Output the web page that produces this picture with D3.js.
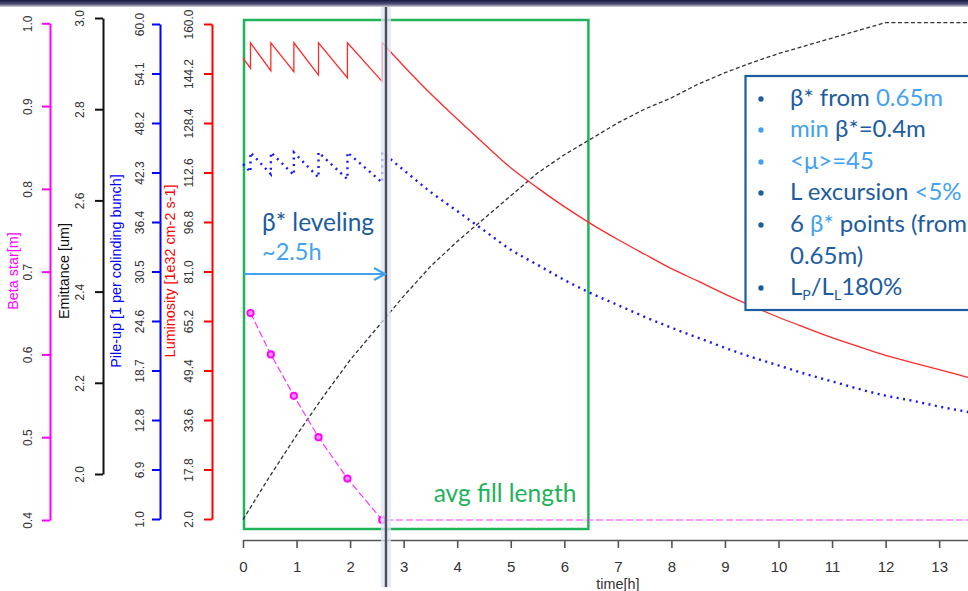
<!DOCTYPE html>
<html>
<head>
<meta charset="utf-8">
<script src="https://cdn.jsdelivr.net/npm/d3@7"></script>
<style>
  html, body { margin: 0; padding: 0; background: #fff; }
  svg { display: block; }
</style>
</head>
<body>
<script>
// ---- data -------------------------------------------------------------
// Luminosity [1e32 cm-2 s-1] while beta* is levelled (sawtooth, each step a new beta* point)
const levelTime   = [0, 0.14, 0.14, 0.52, 0.52, 0.95, 0.95, 1.41, 1.41, 1.95, 1.95, 2.6, 2.6];
const lumiLevel   = [149.1, 145.9, 154.0, 145.1, 154.0, 144.8, 154.0, 143.7, 154.0, 142.8, 154.0, 141.6, 154.0];
// Pile-up [1 per colliding bunch] over the same levelling steps
const pileLevel   = [43.3, 42.35, 44.7, 42.1, 44.7, 42.0, 44.7, 41.7, 44.7, 41.5, 44.7, 41.1, 44.7];

// Free decay once the minimum beta* is reached
const decayTime   = [3, 3.5, 4, 4.5, 5, 5.5, 6, 6.5, 7, 7.5, 8, 8.5, 9, 9.5, 10, 10.5, 11, 11.5, 12, 12.5, 13, 13.5, 14];
const lumiDecay   = [146.6, 137.8, 129.7, 121.8, 114.1, 107.7, 101.7, 96.2, 91.2, 86.5, 81.9, 77.9, 73.8, 70.0, 66.4, 63.1, 59.9, 57.0, 54.2, 51.9, 49.7, 47.4, 45.2];
const pileDecay   = [42.6, 40.0, 37.7, 35.4, 33.1, 31.3, 29.5, 27.9, 26.5, 25.1, 23.8, 22.6, 21.4, 20.3, 19.3, 18.3, 17.4, 16.5, 15.7, 15.1, 14.4, 13.8, 13.1];

// Emittance [um]
const emitTime    = [0, 0.5, 1, 1.5, 2, 2.5, 3, 3.5, 4, 4.5, 5, 5.5, 6, 6.5, 7, 7.5, 8, 8.5, 9, 9.5, 10, 10.5, 11, 11.5, 12, 14];
const emitValue   = [1.90, 1.995, 2.085, 2.17, 2.25, 2.32, 2.39, 2.455, 2.51, 2.56, 2.61, 2.66, 2.70, 2.735, 2.77, 2.80, 2.825, 2.855, 2.88, 2.902, 2.922, 2.939, 2.956, 2.973, 2.99, 2.99];

// Beta* points [m]
const betaTime    = [0.14, 0.52, 0.95, 1.41, 1.95, 2.6];
const betaValue   = [0.65, 0.60, 0.55, 0.50, 0.45, 0.40];
const betaEndTime = 14;

// Axis tick labels
const xTicks      = [0, 1, 2, 3, 4, 5, 6, 7, 8, 9, 10, 11, 12, 13];
const betaTicks   = [0.4, 0.5, 0.6, 0.7, 0.8, 0.9, 1.0];
const emitTicks   = [2.0, 2.2, 2.4, 2.6, 2.8, 3.0];
const pileTicks   = [1.0, 6.9, 12.8, 18.7, 24.6, 30.5, 36.4, 42.3, 48.2, 54.1, 60.0];
const lumiTicks   = [2.0, 17.8, 33.6, 49.4, 65.2, 81.0, 96.8, 112.6, 128.4, 144.2, 160.0];

// Annotation times [h]
const levellingEnd  = 2.67;
const avgFillLength = 6.45;

// ---- layout -------------------------------------------------------------
const W = 968, H = 591;
const svg = d3.select("body").append("svg").attr("width", W).attr("height", H)
  .attr("font-family", "'Liberation Sans', Arial, sans-serif");

const x     = d3.scaleLinear([0, 14], [243, 992.7]);
const yBeta = d3.scaleLinear([0.4, 1.0], [520, 23.3]);
const yEmit = d3.scaleLinear([2.0, 3.0], [474, 18]);
const yPile = d3.scaleLinear([1.0, 60.0], [519, 24]);
const yLumi = d3.scaleLinear([2.0, 160.0], [519, 24]);

const C = {
  beta: "#ff00ff", pile: "#0000ff", lumi: "#ff0000",
  green: "#22b25a", dark: "#1d5c9f", light: "#42a2f0"
};

// window edge at the top
const defs = svg.append("defs");
const g1 = defs.append("linearGradient").attr("id", "topband").attr("x1", 0).attr("y1", 0).attr("x2", 0).attr("y2", 1);
g1.append("stop").attr("offset", "0%").attr("stop-color", "#15153f");
g1.append("stop").attr("offset", "60%").attr("stop-color", "#55557a");
g1.append("stop").attr("offset", "100%").attr("stop-color", "#d8d8e4");
svg.append("rect").attr("x", 0).attr("y", 0).attr("width", W).attr("height", 7).attr("fill", "url(#topband)");

// ---- y axes (rotated labels, R style) ----------------------------------
function yAxis(scale, ticks, xPos, labelOffset, color, title, titleX) {
  const ax = d3.axisLeft(scale).tickValues(ticks).tickFormat(d3.format(".1f"))
    .tickSize(8).tickSizeOuter(0);
  const g = svg.append("g").attr("transform", `translate(${xPos},0)`).call(ax);
  g.select(".domain").attr("stroke", color).attr("stroke-width", 2);
  g.selectAll(".tick line").attr("stroke", color).attr("stroke-width", 2);
  g.selectAll(".tick text")
    .attr("x", null).attr("dy", null)
    .attr("text-anchor", "middle")
    .attr("transform", `translate(${-labelOffset},0) rotate(-90) scale(1,1.12)`)
    .attr("fill", "#333")
    .attr("font-size", 12)
    .attr("font-family", "'Liberation Sans', Arial, sans-serif");
  svg.append("text")
    .attr("transform", `translate(${titleX},271) rotate(-90)`)
    .attr("text-anchor", "middle")
    .attr("font-size", 14.4)
    .attr("fill", color)
    .text(title);
}
yAxis(yBeta, betaTicks, 50, 18, C.beta, "Beta star[m]", 18);
yAxis(yEmit, emitTicks, 103, 19, "#111", "Emittance [um]", 69);
yAxis(yPile, pileTicks, 160, 16, C.pile, "Pile-up [1 per colinding bunch]", 121);
yAxis(yLumi, lumiTicks, 212, 19, C.lumi, "Luminosity [1e32 cm-2 s-1]", 175);

// ---- x axis -------------------------------------------------------------
const xg = svg.append("g").attr("transform", "translate(0,540)")
  .call(d3.axisBottom(x).tickValues(xTicks).tickFormat(d3.format("d")).tickSize(8).tickSizeOuter(0));
xg.select(".domain").attr("stroke", "#555").attr("stroke-width", 1.6);
xg.selectAll(".tick line").attr("stroke", "#555").attr("stroke-width", 1.6);
xg.selectAll(".tick text").attr("dy", null).attr("y", 32)
  .attr("font-size", 15).attr("fill", "#333")
  .attr("font-family", "'Liberation Sans', Arial, sans-serif");
svg.append("text").attr("x", x(7)).attr("y", 589).attr("text-anchor", "middle")
  .attr("font-size", 14.4).attr("fill", "#333").text("time[h]");

// ---- annotation frame: average fill length ------------------------------
svg.append("rect")
  .attr("x", x(0) + 1).attr("y", 20)
  .attr("width", x(avgFillLength) - x(0) - 1).attr("height", 509)
  .attr("fill", "none").attr("stroke", C.green).attr("stroke-width", 2.5);

// ---- curves -------------------------------------------------------------
const line = (ys) => d3.line().x(d => x(d[0])).y(d => ys(d[1]));

const emitPts = emitTime.map((t, i) => [t, emitValue[i]]);
svg.append("path").datum(emitPts).attr("d", line(yEmit))
  .attr("fill", "none").attr("stroke", "#333").attr("stroke-width", 1.3)
  .attr("stroke-dasharray", "4 2.5");

// luminosity: straight sawtooth while levelling, smooth decay afterwards
const lumiLevPts = levelTime.map((t, i) => [t, lumiLevel[i]]);
const lumiDecPts = [lumiLevPts[lumiLevPts.length - 1]].concat(decayTime.map((t, i) => [t, lumiDecay[i]]));
const pileLevPts = levelTime.map((t, i) => [t, pileLevel[i]]);
const pileDecPts = [pileLevPts[pileLevPts.length - 1]].concat(decayTime.map((t, i) => [t, pileDecay[i]]));

const lumiPath = line(yLumi)(lumiLevPts) + line(yLumi).curve(d3.curveMonotoneX)(lumiDecPts).replace(/^M/, "L");
svg.append("path").attr("d", lumiPath)
  .attr("fill", "none").attr("stroke", "#ff2a2a").attr("stroke-width", 1.3);

const pilePath = line(yPile)(pileLevPts) + line(yPile).curve(d3.curveMonotoneX)(pileDecPts).replace(/^M/, "L");
svg.append("path").attr("d", pilePath)
  .attr("fill", "none").attr("stroke", "#1515ff").attr("stroke-width", 2.4)
  .attr("stroke-dasharray", "2 4.5");

const betaPts = betaTime.map((t, i) => [t, betaValue[i]]);
svg.append("path").datum(betaPts.concat([[betaEndTime, betaValue[betaValue.length - 1]]]))
  .attr("d", line(yBeta))
  .attr("fill", "none").attr("stroke", "#ff33ff").attr("stroke-width", 1.2)
  .attr("stroke-dasharray", "7 3");
svg.selectAll("circle.beta").data(betaPts).join("circle")
  .attr("class", "beta")
  .attr("cx", d => x(d[0])).attr("cy", d => yBeta(d[1])).attr("r", 3.2)
  .attr("fill", "#ff8cff").attr("stroke", C.beta).attr("stroke-width", 1.8);

// ---- end of levelling marker ---------------------------------------------
const xl = x(levellingEnd);
svg.append("rect").attr("x", xl - 5).attr("y", 7).attr("width", 10).attr("height", 580)
  .attr("fill", "#dfe4f4").attr("opacity", 0.75);
svg.append("line").attr("x1", xl).attr("x2", xl).attr("y1", 7).attr("y2", 587)
  .attr("stroke", "#4d4d55").attr("stroke-width", 2.4);

// levelling arrow
const ay = 274;
svg.append("line").attr("x1", x(0) + 1).attr("x2", xl - 1).attr("y1", ay).attr("y2", ay)
  .attr("stroke", C.light).attr("stroke-width", 2.2);
svg.append("path").attr("d", `M${xl - 12},${ay - 6} L${xl - 1},${ay} L${xl - 12},${ay + 6}`)
  .attr("fill", "none").attr("stroke", C.light).attr("stroke-width", 2.2);

const ann = "Lato, 'Open Sans', sans-serif";
svg.append("text").attr("x", 262).attr("y", 231).attr("font-family", ann).attr("font-size", 24.5)
  .attr("fill", C.dark).text("β* leveling");
svg.append("text").attr("x", 262).attr("y", 260).attr("font-family", ann).attr("font-size", 23.5)
  .attr("fill", C.light).text("~2.5h");
svg.append("text").attr("x", 505).attr("y", 502).attr("text-anchor", "middle")
  .attr("font-family", ann).attr("font-size", 24.5).attr("fill", C.green).text("avg fill length");

// ---- bullet box -----------------------------------------------------------
svg.append("rect").attr("x", 745.5).attr("y", 76).attr("width", 300).attr("height", 234)
  .attr("fill", "#fff").attr("stroke", C.dark).attr("stroke-width", 2.2);

const fsBox = 24;
const bulletLines = [
  { bullet: C.dark,  y: 106, parts: [["β* from ", C.dark], ["0.65m", C.light]] },
  { bullet: C.light, y: 137, parts: [["min ", C.light], ["β*=0.4m", C.dark]] },
  { bullet: C.light, y: 169, parts: [["<μ>=45", C.light]] },
  { bullet: C.dark,  y: 200, parts: [["L excursion ", C.dark], ["<5%", C.light]] },
  { bullet: C.dark,  y: 232, parts: [["6 ", C.dark], ["β*", C.light], [" points (from", C.dark]] },
  { bullet: null,    y: 264, parts: [["0.65m)", C.dark]] },
];
bulletLines.forEach(l => {
  if (l.bullet) svg.append("circle").attr("cx", 761).attr("cy", l.y - 7).attr("r", 2.7).attr("fill", l.bullet);
  const t = svg.append("text").attr("x", 790).attr("y", l.y)
    .attr("font-family", ann).attr("font-size", fsBox).attr("xml:space", "preserve");
  l.parts.forEach(p => t.append("tspan").attr("fill", p[1]).text(p[0]));
});
svg.append("circle").attr("cx", 761).attr("cy", 295 - 7).attr("r", 2.7).attr("fill", C.dark);
const lp = svg.append("text").attr("x", 790).attr("y", 295)
  .attr("font-family", ann).attr("font-size", fsBox).attr("fill", C.dark);
lp.append("tspan").text("L");
lp.append("tspan").attr("font-size", 14).attr("dy", 5).text("P");
lp.append("tspan").attr("dy", -5).text("/L");
lp.append("tspan").attr("font-size", 14).attr("dy", 5).text("L");
lp.append("tspan").attr("dy", -5).text("180%");
</script>
</body>
</html>
